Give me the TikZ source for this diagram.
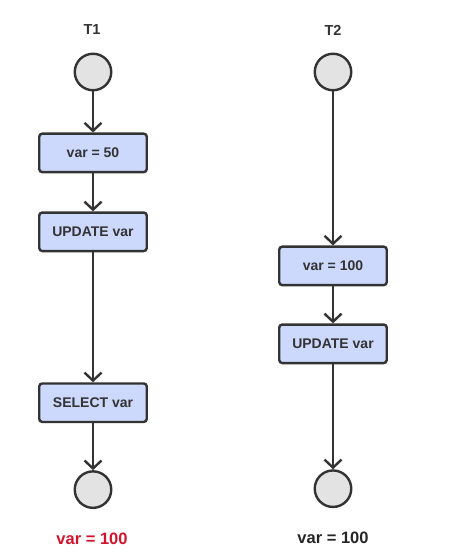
\documentclass[tikz,border=0pt]{standalone}
\usepackage{fontspec}
\setmainfont{Liberation Sans}
\usetikzlibrary{arrows.meta,positioning}
\definecolor{txnblue}{HTML}{CCD8FC}
\definecolor{txngray}{HTML}{E3E3E3}
\definecolor{txnline}{HTML}{333333}
\definecolor{txnred}{HTML}{D2132C}

\begin{document}
\begin{tikzpicture}[
  x=1pt, y=-1pt,
  font=\bfseries\fontsize{14}{16}\selectfont,
  >={Straight Barb[length=8pt,width=17pt]},
  terminal/.style={circle, draw=txnline, line width=2.4pt, fill=txngray, minimum size=36.5pt, inner sep=0pt},
  op/.style={draw=txnline, line width=2.4pt, rounded corners=3pt, fill=txnblue, minimum width=107.5pt, minimum height=38.5pt, inner sep=0pt, text=txnline},
  flow/.style={->, line width=2.4pt, draw=txnline},
  title/.style={font=\bfseries\fontsize{14.5}{16}\selectfont, text=txnline},
  result/.style={font=\bfseries\fontsize{16.5}{18}\selectfont}
]
  \useasboundingbox (0,0) rectangle (451,559);

  % transaction T1
  \node[title] (t1) at (92,30) {T1};
  \node[terminal] (start1) at (93,72) {};
  \node[op, below=41pt of start1] (set1) {var = 50};
  \node[op, below=38pt of set1] (upd1) {UPDATE var};
  \node[op, below=130pt of upd1] (sel1) {SELECT var};
  \node[terminal, below=47pt of sel1] (end1) {};
  \node[result, text=txnred] (res1) at (92,539) {var = 100};

  \draw[flow] (start1) -- (set1);
  \draw[flow] (set1) -- (upd1);
  \draw[flow] (upd1) -- (sel1);
  \draw[flow] (sel1) -- (end1);

  % transaction T2
  \node[title] (t2) at (333,30) {T2};
  \node[terminal] (start2) at (333,72) {};
  \node[op, below=154pt of start2] (set2) {var = 100};
  \node[op, below=37pt of set2] (upd2) {UPDATE var};
  \node[terminal, below=105pt of upd2] (end2) {};
  \node[result, text=black!85] (res2) at (333,538) {var = 100};

  \draw[flow] (start2) -- (set2);
  \draw[flow] (set2) -- (upd2);
  \draw[flow] (upd2) -- (end2);
\end{tikzpicture}
\end{document}
